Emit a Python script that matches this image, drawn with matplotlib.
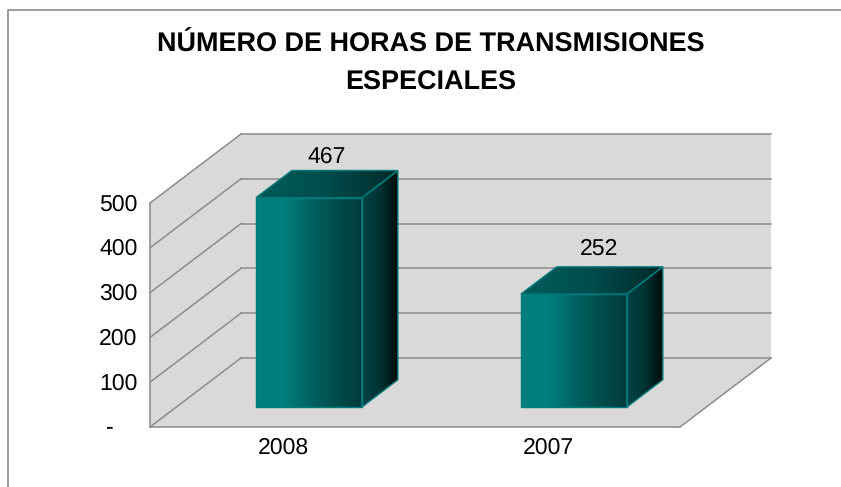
import numpy as np
import matplotlib
matplotlib.use("Agg")
import matplotlib.pyplot as plt
from matplotlib.patches import Polygon
from matplotlib.colors import LinearSegmentedColormap

plt.rcParams['font.family'] = ['Liberation Sans', 'DejaVu Sans']
plt.rcParams['text.hinting'] = 'no_hinting'
plt.rcParams['text.hinting_factor'] = 1

categories = ["2008", "2007"]
values = [467, 252]
y_ticks = [0, 100, 200, 300, 400, 500]
y_labels = ["-", "100", "200", "300", "400", "500"]
title = "NÚMERO DE HORAS DE TRANSMISIONES\nESPECIALES"

# how far one unit of depth moves a point on the axes
DX = 91 / 265
DY = 154
BAR_HALF = 0.2
Z0 = 0.29
Z1 = 0.685
GREY = "#8c8c8c"
FS = 16.8

# value label nudges, in points
label_dx = [-13, -8]
label_dy = [2, 5]


def proj(x, y, z=0.0):
    return x + z * DX, y + z * DY


fig = plt.figure(figsize=(8.41, 4.87), dpi=100)
ax = fig.add_axes([150 / 841, 60 / 487, 530 / 841, 224 / 487])
ax.set_xlim(0, 2)
ax.set_ylim(0, 500)
ax.axis("off")


def wall(points, z):
    ax.add_patch(Polygon(points, closed=True, fc="#d9d9d9", ec="none", clip_on=False, zorder=z))


def line(p, q, z=2):
    ax.plot([p[0], q[0]], [p[1], q[1]], color=GREY, lw=1.1, clip_on=False, zorder=z)


# walls and floor
wall([proj(0, 0, 1), proj(2, 0, 1), proj(2, 500, 1), proj(0, 500, 1)], 1)
wall([proj(0, 0), proj(0, 0, 1), proj(0, 500, 1), proj(0, 500)], 1)
wall([proj(0, 0), proj(2, 0), proj(2, 0, 1), proj(0, 0, 1)], 1)

for t in y_ticks:
    line(proj(0, t), proj(0, t, 1))
    line(proj(0, t, 1), proj(2, t, 1))
line(proj(0, 0), proj(0, 500))
line(proj(0, 0), proj(2, 0))
line(proj(2, 0), proj(2, 0, 1))


def face(points, colors, z):
    xs = [p[0] for p in points]
    ys = [p[1] for p in points]
    cmap = LinearSegmentedColormap.from_list("f", colors)
    im = ax.imshow(np.linspace(0, 1, 256).reshape(1, -1), cmap=cmap, aspect="auto",
                   extent=(min(xs), max(xs), min(ys), max(ys)), zorder=z)
    poly = Polygon(points, closed=True, fc="none", ec="#007a7a", lw=1.0, clip_on=False, zorder=z + 0.1)
    ax.add_patch(poly)
    # the faces stick out of the axes box, so only the polygon may clip them
    im.set_clip_box(fig.bbox)
    im.set_clip_path(poly)


front_cols = [(0, 0.5, 0.5), (0, 0.5, 0.5), (0, 0.39, 0.39), (0, 0.3, 0.3), (0, 0.24, 0.24)]
top_cols = [(0, 0.36, 0.36), (0, 0.3, 0.3), (0, 0.16, 0.16)]
side_cols = [(0, 0.26, 0.26), (0, 0.2, 0.2), (0, 0.04, 0.04)]

for i, v in enumerate(values):
    c = i + 0.5
    l, r = c - BAR_HALF, c + BAR_HALF
    face([proj(l, 0, Z0), proj(r, 0, Z0), proj(r, v, Z0), proj(l, v, Z0)], front_cols, 5)
    face([proj(l, v, Z0), proj(r, v, Z0), proj(r, v, Z1), proj(l, v, Z1)], top_cols, 5)
    face([proj(r, 0, Z0), proj(r, 0, Z1), proj(r, v, Z1), proj(r, v, Z0)], side_cols, 5)
    lx, ly = proj(c, v, Z1)
    ax.annotate(str(v), (lx, ly), xytext=(label_dx[i], label_dy[i]), textcoords="offset points",
                ha="center", va="bottom", fontsize=FS, color="black", annotation_clip=False, zorder=8)
    ax.annotate(categories[i], (c, 0), xytext=(0.4, -15), textcoords="offset points", ha="center",
                va="center", fontsize=FS, color="black", annotation_clip=False)

for t, lab in zip(y_ticks, y_labels):
    if t == 0:
        ax.annotate(lab, (0, t), xytext=(-26, 0), textcoords="offset points", ha="right",
                    va="center", fontsize=FS, annotation_clip=False)
    else:
        ax.annotate(lab, (0, t), xytext=(-9, -1), textcoords="offset points", ha="right",
                    va="center", fontsize=FS, annotation_clip=False)

fig.text(430.5 / 841, 1 - 64 / 487, title, ha="center", va="center", fontsize=19.15,
         fontweight="bold", linespacing=1.67)

# chart area border, cut by the edge of the picture
fig.add_artist(plt.Line2D([7.5 / 841, 7.5 / 841, 1], [0, 1 - 9.5 / 487, 1 - 9.5 / 487],
                          color="#8c8c8c", lw=1.2))

fig.savefig("out.png", dpi=100)
